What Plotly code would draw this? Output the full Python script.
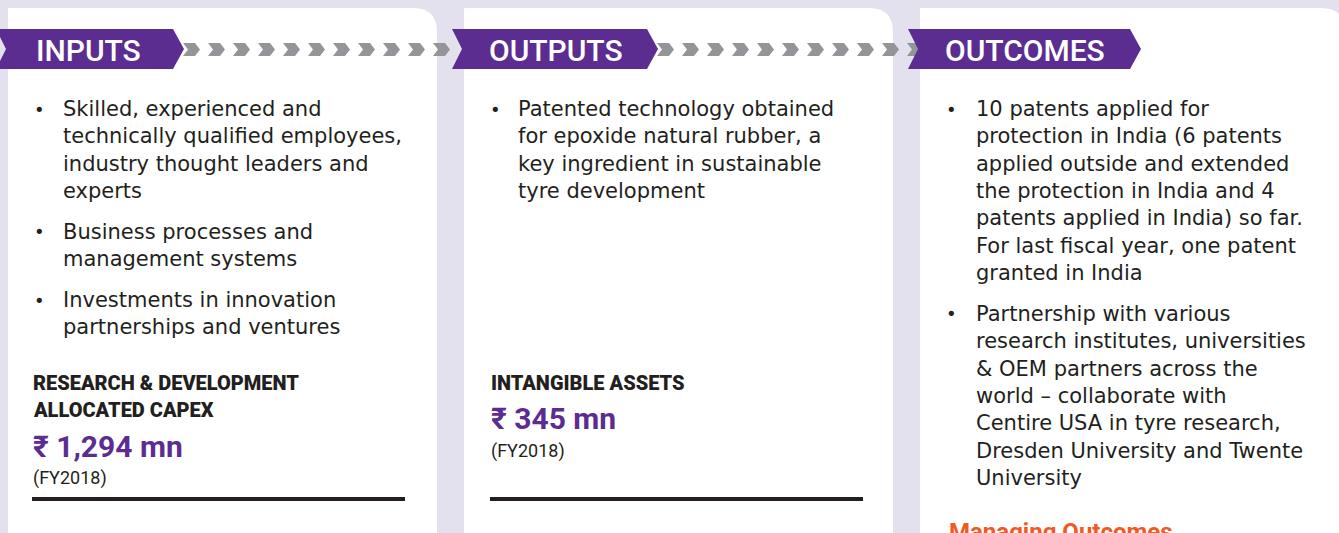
import plotly.graph_objects as go

# ---------------- content ----------------
stage_titles = ["INPUTS", "OUTPUTS", "OUTCOMES"]

inputs_bullets = [
    ["Skilled, experienced and", "technically qualified employees,",
     "industry thought leaders and", "experts"],
    ["Business processes and", "management systems"],
    ["Investments in innovation", "partnerships and ventures"],
]
outputs_bullets = [
    ["Patented technology obtained", "for epoxide natural rubber, a",
     "key ingredient in sustainable", "tyre development"],
]
outcomes_bullets = [
    ["10 patents applied for", "protection in India (6 patents",
     "applied outside and extended", "the protection in India and 4",
     "patents applied in India) so far.", "For last fiscal year, one patent",
     "granted in India"],
    ["Partnership with various", "research institutes, universities",
     "& OEM partners across the", "world – collaborate with",
     "Centire USA in tyre research,", "Dresden University and Twente",
     "University"],
]
metric_labels = [["RESEARCH & DEVELOPMENT", "ALLOCATED CAPEX"], ["INTANGIBLE ASSETS"]]
metric_values = ["₹ 1,294 mn", "₹ 345 mn"]
metric_periods = ["(FY2018)", "(FY2018)"]
footer_heading = "Managing Outcomes"

# ---------------- style ----------------
W, H = 1339, 533
BG = "#e4e1ef"
PURPLE = "#5c2d91"
GREY = "#939598"
TEXT = "#231f20"
ORANGE = "#f15a24"
FONT = "Roboto"
BODY_FONT = "DejaVu Sans"

panels = [(8, 437), (464, 893), (920, 1345)]
banners = [(-4, 173), (452, 647), (908, 1130)]
title_x = [34, 487, 943]
bullet_x = [39, 495, 951]
text_x = [61, 516, 974]

fig = go.Figure()
shapes = []
ann = []

# panels with rounded top-right corner
R = 24
for (x0, x1) in panels:
    path = (f"M {x0},8 L {x1-R},8 Q {x1},8 {x1},{8+R} "
            f"L {x1},{H+20} L {x0},{H+20} Z")
    shapes.append(dict(type="path", path=path, fillcolor="white",
                       line=dict(width=0), layer="below"))

# grey chevron arrows between stages
CH_W, CH_TIP, CH_TOP, CH_BOT = 12, 5, 43, 56
ymid = (CH_TOP + CH_BOT) / 2
for start in (183, 657):
    for k in range(11):
        cx = start + 25 * k
        path = (f"M {cx},{CH_TOP} L {cx+CH_W},{CH_TOP} L {cx+CH_W+CH_TIP},{ymid} "
                f"L {cx+CH_W},{CH_BOT} L {cx},{CH_BOT} L {cx+CH_TIP},{ymid} Z")
        shapes.append(dict(type="path", path=path, fillcolor=GREY,
                           line=dict(width=0), layer="below"))

# purple banners with notched left and pointed right
BT, BB = 29, 69
bm = (BT + BB) / 2
for (x0, x1) in banners:
    path = (f"M {x0},{BT} L {x1},{BT} L {x1+11},{bm} L {x1},{BB} "
            f"L {x0},{BB} L {x0+10},{bm} Z")
    shapes.append(dict(type="path", path=path, fillcolor=PURPLE,
                       line=dict(width=0), layer="above"))

for i, t in enumerate(stage_titles):
    ann.append(dict(x=title_x[i], y=bm + 1, text=t, xanchor="left", yanchor="middle",
                    showarrow=False,
                    font=dict(family=FONT, size=30, color="white", weight=500)))

# bullet lists (plotly multi-line spacing = 1.3 em -> 27.3 px at 21 px)
BODY_SIZE = 21
LH = 1.3 * BODY_SIZE
GAP = 13.7
for p, bullets in enumerate([inputs_bullets, outputs_bullets, outcomes_bullets]):
    y = 109
    for lines in bullets:
        n = len(lines)
        ann.append(dict(x=bullet_x[p], y=y, text="•", xanchor="center",
                        yanchor="middle", showarrow=False,
                        font=dict(family=BODY_FONT, size=18, color=TEXT)))
        ann.append(dict(x=text_x[p], y=y + (n - 1) * LH / 2, text="<br>".join(lines),
                        xanchor="left", yanchor="middle", align="left",
                        showarrow=False,
                        font=dict(family=BODY_FONT, size=BODY_SIZE, color=TEXT)))
        y += n * LH + GAP

# metrics
metric_x = [31, 489]
label_top = 382.5
for m in range(2):
    y = label_top
    for ln in metric_labels[m]:
        ann.append(dict(x=metric_x[m], y=y, text=ln, xanchor="left", yanchor="middle",
                        showarrow=False,
                        font=dict(family=FONT, size=20, color=TEXT, weight=900)))
        y += 27.5
    yv = y + 8.5
    ann.append(dict(x=metric_x[m], y=yv, text=metric_values[m], xanchor="left",
                    yanchor="middle", showarrow=False,
                    font=dict(family=FONT, size=30, color=PURPLE, weight=700)))
    ann.append(dict(x=metric_x[m], y=yv + 32, text=metric_periods[m], xanchor="left",
                    yanchor="middle", showarrow=False,
                    font=dict(family=FONT, size=18, color=TEXT)))
    shapes.append(dict(type="line", x0=metric_x[m] + 1, x1=metric_x[m] + 374, y0=499, y1=499,
                       line=dict(color=TEXT, width=4)))

ann.append(dict(x=947, y=532, text=footer_heading, xanchor="left", yanchor="middle",
                showarrow=False,
                font=dict(family=FONT, size=24, color=ORANGE, weight=700)))

fig.update_layout(
    width=W, height=H, margin=dict(l=0, r=0, t=0, b=0),
    paper_bgcolor=BG, plot_bgcolor=BG,
    xaxis=dict(range=[0, W], visible=False, fixedrange=True),
    yaxis=dict(range=[H, 0], visible=False, fixedrange=True),
    shapes=shapes, annotations=ann, showlegend=False,
)
fig.write_html("out.html", config={"displayModeBar": False},
               post_script="document.body.style.margin='0';document.body.style.overflow='hidden';")
